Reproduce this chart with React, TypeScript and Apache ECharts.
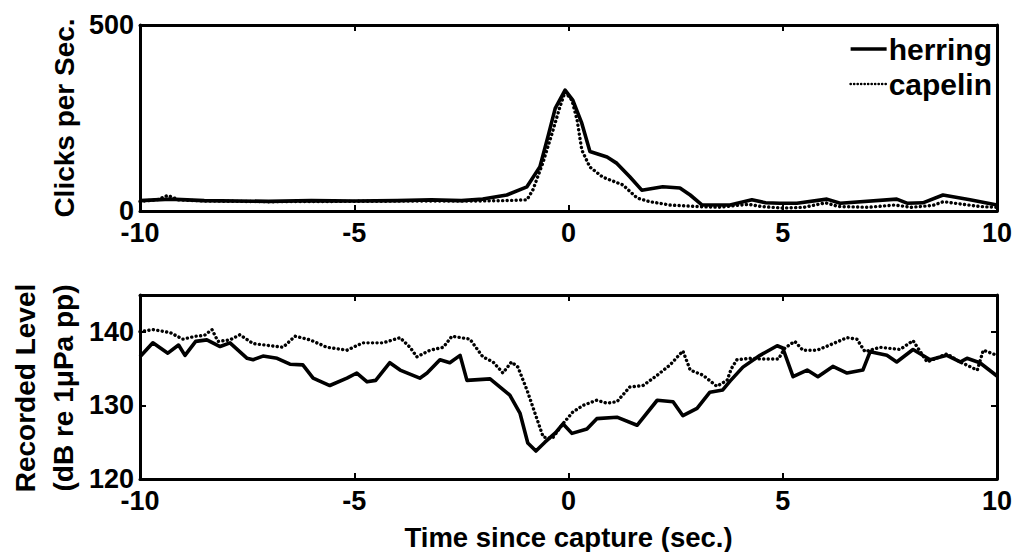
import React, { useEffect, useRef } from "react";
import * as echarts from "echarts";

// ---- Data ----
// Top panel: clicks per second vs time since capture
const herringClicksT = [-10, -9.3, -8.5, -7, -6, -5, -4, -3.2, -2.5, -2, -1.44, -0.97, -0.67, -0.48, -0.31, -0.08, 0.1, 0.31, 0.5, 0.9, 1.13, 1.43, 1.71, 2.2, 2.6, 2.84, 3.12, 3.77, 4.28, 4.6, 4.93, 5.33, 6.03, 6.34, 7.66, 7.9, 8.27, 8.74, 9.37, 10];
const herringClicksV = [28, 32, 28, 26, 28, 27, 28, 30, 28, 32, 43, 65, 118, 200, 276, 325, 298, 236, 160, 145, 128, 92, 56, 65, 62, 43, 16, 16, 30, 22, 21, 21, 32, 21, 32, 21, 22, 43, 30, 16];
const capelinClicksT = [-10, -9.6, -9.35, -9.1, -8.5, -7, -5, -3, -2, -1.5, -0.97, -0.83, -0.6, -0.38, -0.2, -0.08, 0.08, 0.2, 0.31, 0.5, 0.8, 1.27, 1.6, 1.9, 2.37, 3, 3.5, 4.2, 4.5, 5, 5.5, 6, 6.3, 7, 7.6, 8, 8.5, 8.75, 9.2, 9.6, 10];
const capelinClicksV = [26, 30, 42, 30, 27, 25, 26, 27, 27, 28, 30, 57, 129, 210, 280, 320, 298, 245, 164, 118, 91, 70, 35, 25, 16, 12, 10, 18, 12, 8, 10, 22, 12, 10, 16, 10, 15, 25, 18, 12, 10];

// Bottom panel: recorded level (dB re 1 µPa pp)
const herringLevelT = [-10, -9.7, -9.35, -9.1, -8.95, -8.7, -8.44, -8.13, -7.9, -7.5, -7.36, -7.13, -6.8, -6.5, -6.2, -5.96, -5.57, -5.17, -4.94, -4.7, -4.5, -4.17, -3.93, -3.47, -3.3, -3.0, -2.77, -2.53, -2.37, -1.83, -1.37, -1.13, -0.95, -0.76, -0.55, -0.3, -0.13, 0.08, 0.43, 0.66, 1.13, 1.6, 2.07, 2.44, 2.67, 3.0, 3.3, 3.6, 3.77, 4.07, 4.47, 4.87, 5.0, 5.24, 5.57, 5.82, 6.17, 6.5, 6.87, 7.04, 7.43, 7.66, 8.04, 8.44, 8.83, 9.14, 9.3, 9.6, 10];
const herringLevelV = [136.6, 138.5, 137.1, 138.2, 136.8, 138.7, 138.9, 138.0, 138.5, 136.4, 136.2, 136.7, 136.4, 135.6, 135.5, 133.7, 132.7, 133.7, 134.4, 133.2, 133.4, 135.8, 134.8, 133.7, 134.4, 136.2, 135.8, 136.8, 133.4, 133.6, 131.4, 128.9, 124.9, 123.8, 125.0, 126.3, 127.5, 126.2, 126.8, 128.2, 128.4, 127.3, 130.7, 130.5, 128.6, 129.6, 131.8, 132.1, 133.3, 135.2, 136.8, 138.1, 137.8, 133.9, 134.8, 133.9, 135.3, 134.4, 134.8, 137.3, 136.8, 135.9, 137.6, 136.2, 136.8, 135.9, 136.4, 135.8, 134.0];
const capelinLevelT = [-10, -9.7, -9.3, -9.0, -8.7, -8.5, -8.32, -8.18, -7.9, -7.67, -7.36, -6.66, -6.38, -6.03, -5.64, -5.17, -4.8, -4.33, -3.93, -3.7, -3.54, -3.23, -2.92, -2.72, -2.3, -2.0, -1.76, -1.53, -1.33, -1.18, -0.97, -0.78, -0.59, -0.38, -0.13, 0.1, 0.34, 0.66, 0.9, 1.13, 1.43, 1.74, 2.07, 2.37, 2.67, 2.84, 3.14, 3.46, 3.7, 3.8, 3.93, 4.23, 4.54, 4.9, 5.05, 5.28, 5.47, 5.8, 6.1, 6.5, 6.73, 6.92, 7.27, 7.74, 8.04, 8.37, 8.83, 9.14, 9.54, 9.68, 10];
const capelinLevelV = [140.0, 140.3, 139.9, 139.0, 139.4, 139.5, 140.3, 138.7, 138.9, 139.6, 138.4, 137.9, 139.4, 138.9, 137.9, 137.5, 138.5, 138.5, 139.2, 137.9, 136.6, 137.5, 137.9, 139.4, 139.0, 136.6, 135.9, 134.4, 135.9, 135.2, 132.1, 128.9, 125.7, 125.5, 127.5, 129.1, 130.0, 130.7, 130.3, 130.5, 132.5, 132.7, 134.1, 135.5, 137.4, 134.8, 134.1, 132.6, 133.4, 135.0, 136.2, 136.4, 136.3, 136.3, 137.8, 138.7, 137.5, 137.5, 138.2, 139.2, 139.0, 137.3, 137.9, 137.6, 138.8, 135.9, 137.0, 135.9, 134.8, 137.5, 136.8];

const seriesNames = ["herring", "capelin"];
const timeRange = [-10, 10];
const clicksRange = [0, 500];
const levelRange = [120, 145];

const zip = (t: number[], v: number[]) => t.map((x, i) => [x, v[i]]);

const FONT = "'Liberation Sans', Arial, Helvetica, sans-serif";

export default function App() {
  const ref = useRef<HTMLDivElement>(null);

  useEffect(() => {
    if (!ref.current) return;
    const chart = echarts.init(ref.current, undefined, { renderer: "svg" });

    const axisLine = { show: true, onZero: false, lineStyle: { color: "#000", width: 3 } };
    const axisTick = { show: true, inside: true, length: 6, lineStyle: { color: "#000", width: 2 } };
    const label = { color: "#000", fontFamily: FONT, fontWeight: "bold" as const, fontSize: 27 };

    const xAx = (gridIndex: number, position: "top" | "bottom", showLabel: boolean, extra: any = {}) => ({
      type: "value",
      gridIndex,
      position,
      min: timeRange[0],
      max: timeRange[1],
      interval: 5,
      axisLine,
      axisTick,
      splitLine: { show: false },
      axisLabel: { show: showLabel, margin: 8, ...label },
      ...extra,
    });
    const yAx = (gridIndex: number, position: "left" | "right", showLabel: boolean, range: number[], interval: number) => ({
      type: "value",
      gridIndex,
      position,
      min: range[0],
      max: range[1],
      interval,
      axisLine,
      axisTick,
      splitLine: { show: false },
      axisLabel: {
        show: showLabel,
        margin: 6,
        ...label,
        formatter: (v: number) => (v % interval === 0 ? String(v) : ""),
      },
    });

    const lineSolid = { color: "#000", width: 3.6, type: "solid" as const, join: "round" as const };
    const lineDotted = { color: "#000", width: 3.4, type: [0.1, 4.4] as any, cap: "round" as const };

    chart.setOption({
      animation: false,
      backgroundColor: "#fff",
      grid: [
        { left: 140, top: 25, width: 857, height: 186 },
        { left: 140, top: 295, width: 857, height: 186 },
      ],
      legend: {
        data: [
          { name: seriesNames[0], lineStyle: { width: 3.6, type: "solid", color: "#000" } },
          { name: seriesNames[1], lineStyle: { width: 2.6, type: [0.1, 3.4], cap: "round", color: "#000" } },
        ],
        orient: "vertical",
        right: 24,
        top: 34,
        padding: 0,
        itemGap: 5,
        itemWidth: 36,
        itemHeight: 14,
        selectedMode: false,
        itemStyle: { color: "transparent", borderWidth: 0, opacity: 0 },
        lineStyle: { color: "#000", width: 3.4 },
        textStyle: { ...label, fontSize: 30, padding: [0, 0, 0, -3] },
      },
      xAxis: [
        xAx(0, "bottom", true),
        xAx(0, "top", false),
        xAx(1, "bottom", true, {
          name: "Time since capture (sec.)",
          nameLocation: "middle",
          nameGap: 44,
          nameTextStyle: { ...label, fontSize: 27.5 },
        }),
        xAx(1, "top", false),
      ],
      yAxis: [
        yAx(0, "left", true, clicksRange, 500),
        yAx(0, "right", false, clicksRange, 500),
        yAx(1, "left", true, levelRange, 10),
        yAx(1, "right", false, levelRange, 10),
      ],
      graphic: [
        {
          type: "text",
          x: 64,
          y: 118,
          rotation: Math.PI / 2,
          style: {
            text: "Clicks per Sec.",
            fill: "#000",
            font: `bold 28px ${FONT}`,
            textAlign: "center",
            textVerticalAlign: "middle",
          },
        },
        {
          type: "text",
          x: 44,
          y: 388,
          rotation: Math.PI / 2,
          style: {
            text: "Recorded Level\n(dB re 1\u03bcPa pp)",
            fill: "#000",
            font: `bold 28px ${FONT}`,
            lineHeight: 38,
            textAlign: "center",
            textVerticalAlign: "middle",
          },
        },
      ],
      series: [
        {
          name: "herring",
          type: "line",
          xAxisIndex: 0,
          yAxisIndex: 0,
          data: zip(herringClicksT, herringClicksV),
          symbol: "none",
          lineStyle: lineSolid,
          itemStyle: { color: "#000" },
        },
        {
          name: "capelin",
          type: "line",
          xAxisIndex: 0,
          yAxisIndex: 0,
          data: zip(capelinClicksT, capelinClicksV),
          symbol: "none",
          lineStyle: lineDotted,
          itemStyle: { color: "#000" },
        },
        {
          name: "herring",
          type: "line",
          xAxisIndex: 2,
          yAxisIndex: 2,
          data: zip(herringLevelT, herringLevelV),
          symbol: "none",
          lineStyle: lineSolid,
          itemStyle: { color: "#000" },
        },
        {
          name: "capelin",
          type: "line",
          xAxisIndex: 2,
          yAxisIndex: 2,
          data: zip(capelinLevelT, capelinLevelV),
          symbol: "none",
          lineStyle: lineDotted,
          itemStyle: { color: "#000" },
        },
      ],
    });

    return () => chart.dispose();
  }, []);

  return (
    <div
      ref={ref}
      style={{ position: "fixed", left: 0, top: 0, width: 1016, height: 552, background: "#fff" }}
    />
  );
}
